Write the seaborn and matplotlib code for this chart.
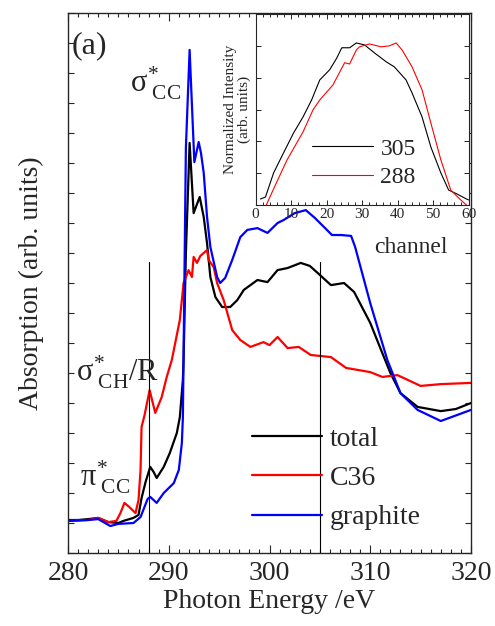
import numpy as np
import matplotlib
matplotlib.use('Agg')
import matplotlib.pyplot as plt
import seaborn as sns
from matplotlib.ticker import MultipleLocator

# main panel (a): absorption spectra, arb. units
e_total = [280, 281, 282, 283, 284, 285, 285.5, 286.5, 287.0, 287.3, 287.7, 288.16, 288.5, 288.8,
           289.5, 290.1, 290.8, 291.1, 291.4, 291.47, 291.7, 292.07, 292.47, 293.07, 293.47, 293.8,
           294.13, 294.63, 295.3, 296.1, 296.8, 297.45, 298.8, 299.8, 300.8, 301.8, 303.1, 304.0,
           304.8, 306.1, 307.4, 308.4, 310.0, 311.0, 312.0, 313.0, 314.7, 317.0, 318.5, 320.0]
y_total = [1.10, 1.10, 1.13, 1.17, 1.03, 1.00, 1.07, 1.17, 1.27, 1.83, 2.37, 2.87, 2.70, 2.50,
           2.87, 3.33, 4.00, 4.53, 5.77, 6.43, 10.0, 13.67, 11.33, 11.87, 11.20, 10.33,
           9.20, 8.53, 8.20, 8.20, 8.43, 8.77, 9.10, 9.03, 9.43, 9.50, 9.67, 9.57,
           9.33, 8.93, 9.00, 8.70, 7.67, 6.83, 6.00, 5.33, 4.87, 4.73, 4.80, 5.00]

e_c36 = [280, 282, 283, 284, 284.8, 285.2, 285.6, 286.1, 286.7, 287.0, 287.2, 287.3, 287.6, 288.1,
         288.66, 289.3, 289.8, 290.3, 291.1, 291.47, 291.97, 292.3, 292.47, 292.8, 293.13,
         293.47, 293.8, 293.96, 294.46, 294.8, 295.45, 296.3, 297.1, 298.1, 299.4, 300.0,
         300.8, 301.8, 302.9, 304.1, 305.0, 306.1, 307.6, 310.0, 311.2, 312.7, 315.0, 317.0, 320.0]
y_c36 = [1.07, 1.10, 1.17, 1.03, 1.07, 1.33, 1.67, 1.53, 1.33, 1.77, 2.77, 4.20, 4.60, 5.43,
         4.67, 5.20, 5.87, 6.43, 7.77, 9.00, 9.43, 9.20, 9.87, 9.67, 9.90,
         10.00, 10.10, 9.77, 9.53, 9.00, 8.43, 7.43, 7.10, 6.87, 7.03, 6.93,
         7.20, 6.83, 6.87, 6.60, 6.57, 6.53, 6.17, 6.03, 5.87, 5.93, 5.57, 5.63, 5.67]

e_graph = [280, 282, 283, 284.2, 285, 286.5, 287.2, 287.9, 288.16, 288.8, 289.5, 290.5, 291.0,
           291.3, 291.4, 291.55, 291.7, 292.07, 292.54, 292.97, 293.2, 293.47, 293.8, 294.13,
           294.8, 295.1, 295.6, 296.3, 297.1, 297.8, 298.8, 299.8, 300.8, 301.4, 302.5, 303.6,
           304.5, 305.4, 306.2, 307.1, 308.1, 308.5, 310.0, 311.7, 313.0, 314.7, 317.0, 320.0]
y_graph = [1.07, 1.10, 1.13, 0.90, 0.97, 1.00, 1.20, 1.80, 1.87, 1.67, 2.00, 2.33, 2.77,
           3.67, 4.50, 9.00, 13.50, 16.77, 13.03, 13.70, 13.33, 12.67, 11.20, 10.20,
           9.20, 9.00, 9.17, 9.77, 10.53, 10.77, 10.83, 10.67, 11.00, 11.10, 11.33, 11.43,
           11.17, 10.87, 10.60, 10.60, 10.57, 10.20, 8.33, 6.43, 5.33, 4.77, 4.40, 4.77]

marker_energies = [288, 305]

# inset (b): normalized intensity vs channel
ch_305 = [1.4, 2.8, 5.1, 7.9, 10.7, 13.4, 15.8, 18.1, 20.9, 22.9, 24.3, 26.5, 28.4, 30.7, 33.5,
          36.8, 39.1, 42.4, 44.1, 46.9, 49.4, 52.2, 54.4, 56.7, 59.4, 60]
i_305 = [0.19, 0.25, 1.01, 1.64, 2.26, 2.77, 3.30, 3.93, 4.25, 4.62, 4.94, 4.94, 5.09, 5.03, 4.78,
         4.50, 4.34, 3.93, 3.52, 2.77, 1.82, 1.01, 0.47, 0.35, 0.19, 0.16]
ch_288 = [2.8, 5.6, 8.9, 13.4, 16.2, 18.1, 21.8, 25.1, 26.5, 28.4, 29.3, 32.1, 35.4, 37.7, 39.6,
          41.3, 44.1, 46.9, 49.7, 52.2, 55.0, 57.8, 59.4]
i_288 = [-0.06, 0.63, 1.42, 2.30, 2.99, 3.30, 3.77, 4.47, 4.43, 4.87, 4.97, 5.06, 4.97, 5.00, 5.09,
         4.87, 4.34, 3.62, 2.45, 1.42, 0.47, 0.16, 0.0]

sns.set_style('ticks')
plt.rcParams['font.family'] = ['Liberation Serif', 'DejaVu Serif']
plt.rcParams['mathtext.fontset'] = 'custom'
plt.rcParams['mathtext.rm'] = 'Liberation Serif'
plt.rcParams['mathtext.it'] = 'Liberation Serif'

fig = plt.figure(figsize=(4.95, 6.26), dpi=100)
ax = fig.add_axes([0.1374, 0.1166, 0.8141, 0.8626])

sns.lineplot(x=e_total, y=y_total, color='black', lw=1.6, sort=False, estimator=None, ax=ax, label='total')
sns.lineplot(x=e_c36, y=y_c36, color='red', lw=1.6, sort=False, estimator=None, ax=ax, label='C36')
sns.lineplot(x=e_graph, y=y_graph, color='blue', lw=1.6, sort=False, estimator=None, ax=ax, label='graphite')

for e in marker_energies:
    ax.plot([e, e], [0, 9.7], color='black', lw=0.8)

ax.set_xlim(280, 320)
ax.set_ylim(0, 18)
ax.xaxis.set_major_locator(MultipleLocator(10))
ax.xaxis.set_minor_locator(MultipleLocator(1))
ax.yaxis.set_major_locator(MultipleLocator(1))
ax.set_yticklabels([])
ax.tick_params(which='both', direction='in', top=True, right=True, width=0.8)
ax.tick_params(which='major', axis='x', length=6, labelsize=20, pad=6)
ax.tick_params(which='minor', axis='x', length=3)
ax.tick_params(which='major', axis='y', length=4)
for s in ax.spines.values():
    s.set_linewidth(1.0)
ax.set_xlabel('Photon Energy /eV', fontsize=20, labelpad=2)
ax.set_ylabel('Absorption (arb. units)', fontsize=20, labelpad=14)

ax.legend(loc='upper left', bbox_to_anchor=(0.457, 0.235), frameon=False, fontsize=20,
          handlelength=2.5, handletextpad=0.3, labelspacing=0.5, borderpad=0, borderaxespad=0)

ax.text(0.01, 0.94, '(a)', transform=ax.transAxes, fontsize=23, va='center', ha='left')
ax.text(0.155, 0.87, r'$\sigma^{*}_{\ \rm CC}$', transform=ax.transAxes, fontsize=22, va='center')
ax.text(0.02, 0.335, r'$\sigma^{*}_{\ \rm CH}/{\rm R}$', transform=ax.transAxes, fontsize=22, va='center')
ax.text(0.03, 0.14, r'$\pi^{*}_{\ \rm CC}$', transform=ax.transAxes, fontsize=22, va='center')

# inset
axi = fig.add_axes([0.5162, 0.6725, 0.4303, 0.3051])
sns.lineplot(x=ch_305, y=i_305, color='black', lw=0.8, sort=False, estimator=None, ax=axi, label='305')
sns.lineplot(x=ch_288, y=i_288, color='red', lw=0.8, sort=False, estimator=None, ax=axi, label='288')
axi.set_xlim(0, 60)
axi.set_ylim(0, 6)
axi.xaxis.set_major_locator(MultipleLocator(10))
axi.xaxis.set_minor_locator(MultipleLocator(2))
axi.yaxis.set_major_locator(MultipleLocator(1))
axi.set_yticklabels([])
axi.tick_params(which='both', direction='in', top=True, right=True, width=0.7)
axi.tick_params(which='major', length=3.5, labelsize=11, pad=2)
axi.tick_params(which='minor', length=2)
axi.set_ylabel('Normalized Intensity\n(arb. units)', fontsize=11, labelpad=1, linespacing=1.1)
axi.set_xlabel('channel', fontsize=17)
axi.xaxis.set_label_coords(0.73, -0.17)
axi.legend(loc='upper left', bbox_to_anchor=(0.265, 0.35), frameon=False, fontsize=17,
           handlelength=2.6, handletextpad=0.3, labelspacing=0.3, borderpad=0, borderaxespad=0)

fig.savefig('out.png', dpi=100)
